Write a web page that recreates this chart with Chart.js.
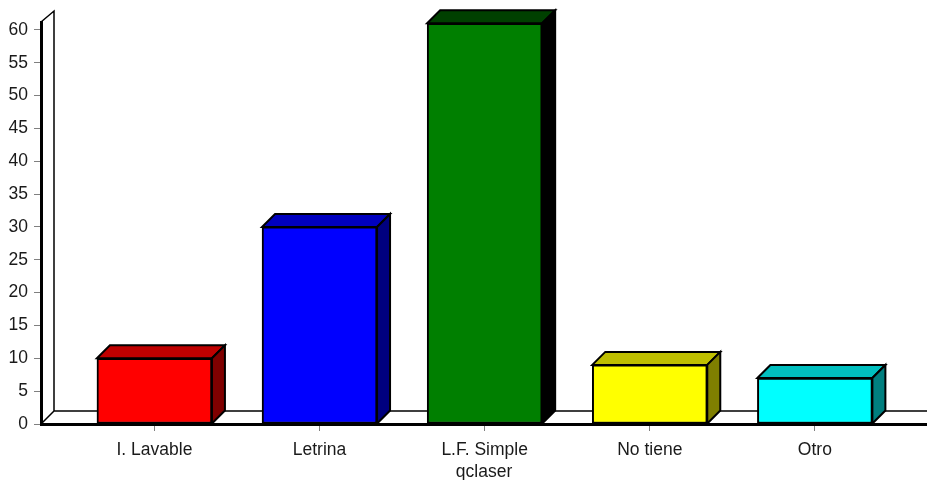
<!DOCTYPE html>
<html>
<head>
<meta charset="utf-8">
<script src="https://cdn.jsdelivr.net/npm/chart.js@4"></script>
<style>
  body { margin: 0; background: #fff; }
  canvas { display: block; }
</style>
</head>
<body>
<canvas id="barChart" width="927" height="480"></canvas>
<script>
const categories = ['I. Lavable', 'Letrina', 'L.F. Simple', 'No tiene', 'Otro'];
const values = [10, 30, 61, 9, 7];
const yTicks = [0, 5, 10, 15, 20, 25, 30, 35, 40, 45, 50, 55, 60];
const frontColors = ['#ff0000', '#0000ff', '#007f00', '#ffff00', '#00ffff'];
const topColors = ['#bf0000', '#0000bf', '#004000', '#bfbf00', '#00bfbf'];
const sideColors = ['#7f0000', '#00007f', '#000000', '#7f7f00', '#007f7f'];
const axisTitle = 'qclaser';

const depth = 13;

function face(ctx, pts, fill) {
  ctx.beginPath();
  ctx.moveTo(pts[0][0], pts[0][1]);
  pts.slice(1).forEach(p => ctx.lineTo(p[0], p[1]));
  ctx.closePath();
  if (fill) { ctx.fillStyle = fill; ctx.fill(); }
  ctx.stroke();
}

// fake 3D: back wall, floor and the top/side of every bar
const box3d = {
  id: 'box3d',
  beforeDatasetsDraw(chart) {
    const ctx = chart.ctx;
    const a = chart.chartArea;
    ctx.save();
    ctx.strokeStyle = '#000';
    ctx.lineJoin = 'miter';

    ctx.lineWidth = 1.5;
    ctx.beginPath();
    ctx.moveTo(a.left, a.top);
    ctx.lineTo(a.left + depth, a.top - depth + 2);
    ctx.lineTo(a.left + depth, a.bottom - depth);
    ctx.lineTo(a.right, a.bottom - depth);
    ctx.moveTo(a.left + depth, a.bottom - depth);
    ctx.lineTo(a.left, a.bottom);
    ctx.stroke();

    ctx.lineWidth = 2;
    chart.getDatasetMeta(0).data.forEach((bar, i) => {
      const l = bar.x - bar.width / 2;
      const r = bar.x + bar.width / 2;
      face(ctx, [[l, bar.y], [l + depth, bar.y - depth], [r + depth, bar.y - depth], [r, bar.y]], topColors[i]);
      face(ctx, [[r, bar.y], [r + depth, bar.y - depth], [r + depth, bar.base - depth], [r, bar.base]], sideColors[i]);
    });
    ctx.restore();
  }
};

const font = { family: '"Liberation Sans", Arial, sans-serif', size: 17.5 };

new Chart(document.getElementById('barChart').getContext('2d'), {
  type: 'bar',
  data: {
    datasets: [{
      data: values.map((v, i) => ({ x: i, y: v })),
      backgroundColor: frontColors,
      borderColor: '#000',
      borderWidth: 2,
      borderSkipped: false,
      barThickness: 115
    }]
  },
  options: {
    responsive: false,
    animation: false,
    layout: { padding: { top: 22, right: 0, left: 0, bottom: 0 } },
    plugins: { legend: { display: false }, tooltip: { enabled: false } },
    scales: {
      x: {
        type: 'linear',
        offset: false,
        min: -0.687,
        max: 4.679,
        afterFit: s => { s.height = 56; },
        afterBuildTicks: s => { s.ticks = categories.map((c, i) => ({ value: i })); },
        grid: { offset: false, drawOnChartArea: false, tickColor: '#808080', tickLength: 7 },
        border: { color: '#000', width: 3 },
        ticks: {
          callback: v => categories[v],
          color: '#1a1a1a',
          font: font,
          padding: 9,
          maxRotation: 0,
          autoSkip: false
        },
        title: { display: true, text: axisTitle, color: '#1a1a1a', font: font, padding: { top: 0, bottom: -3 } }
      },
      y: {
        min: 0,
        max: 61.2,
        afterFit: s => { s.width = 41; },
        afterBuildTicks: s => { s.ticks = yTicks.map(v => ({ value: v })); },
        grid: { drawOnChartArea: false, tickColor: '#808080', tickLength: 7 },
        border: { color: '#000', width: 3 },
        ticks: { color: '#1a1a1a', font: font, padding: 6 }
      }
    }
  },
  plugins: [box3d]
});
</script>
</body>
</html>
